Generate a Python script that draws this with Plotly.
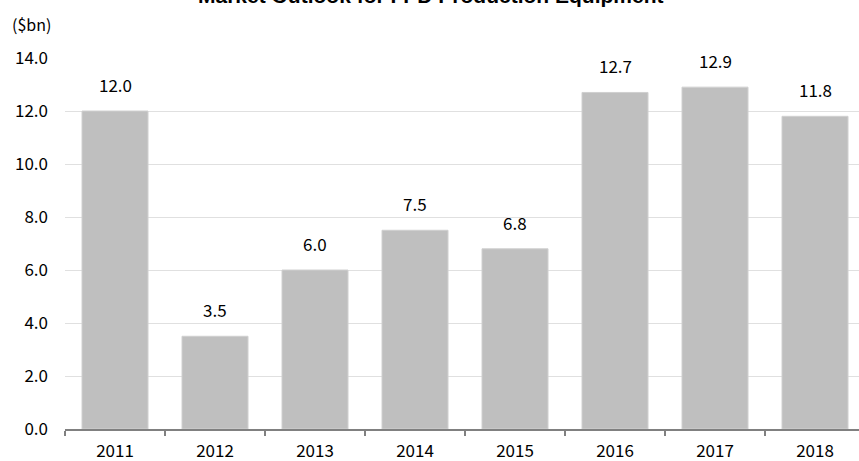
import plotly.graph_objects as go

years = ["2011", "2012", "2013", "2014", "2015", "2016", "2017", "2018"]
values = [12.0, 3.5, 6.0, 7.5, 6.8, 12.7, 12.9, 11.8]
y_ticks = [0, 2, 4, 6, 8, 10, 12, 14]
y_tick_labels = ["0.0", "2.0", "4.0", "6.0", "8.0", "10.0", "12.0", "14.0"]

FONT = "Noto Sans CJK JP"

fig = go.Figure()
fig.add_trace(go.Bar(
    x=years, y=values,
    marker=dict(color="#bfbfbf", line=dict(color="#d0d0d0", width=1)),
    width=0.66,
))

for i, v in enumerate(values):
    fig.add_annotation(x=i, y=v, xref="x", yref="y", text=f"{v:.1f}", showarrow=False,
                       yanchor="bottom", yshift=12,
                       font=dict(family=FONT, size=17, color="#000"))

fig.add_annotation(x=-55/794, xref="paper", y=1 + 34/371, yref="paper",
                   text="($bn)", showarrow=False, xanchor="left", yanchor="middle",
                   font=dict(family=FONT, size=16, color="#000"))
fig.add_annotation(x=(431 - 65)/794, xref="paper", y=1 + 49/371, yref="paper",
                   text="<b>Market Outlook for FPD Production Equipment</b>",
                   showarrow=False, xanchor="center", yanchor="bottom",
                   font=dict(family="Liberation Sans, Arial", size=21, color="#000"))

fig.update_layout(
    width=859, height=461,
    margin=dict(l=65, r=0, t=58, b=32),
    plot_bgcolor="white", paper_bgcolor="white",
    showlegend=False,
    font=dict(family=FONT, size=17, color="#000"),
    xaxis=dict(
        type="category", range=[-0.5, 7.44],
        showline=True, linecolor="#808080", linewidth=2,
        ticks="outside", tickson="boundaries", ticklen=5, tickwidth=2, tickcolor="#808080",
        showgrid=False, tickfont=dict(family=FONT, size=17, color="#000"),
        ticklabelstandoff=6,
    ),
    yaxis=dict(
        range=[0, 14], tickvals=y_ticks, ticktext=y_tick_labels,
        showgrid=True, gridcolor="#e0e0e0", gridwidth=1,
        zeroline=False, showline=False, ticks="",
        tickfont=dict(family=FONT, size=17, color="#000"),
        ticklabelstandoff=16,
    ),
)

fig.write_html("out.html", config={"displayModeBar": False},
               post_script="document.body.style.margin='0';")
